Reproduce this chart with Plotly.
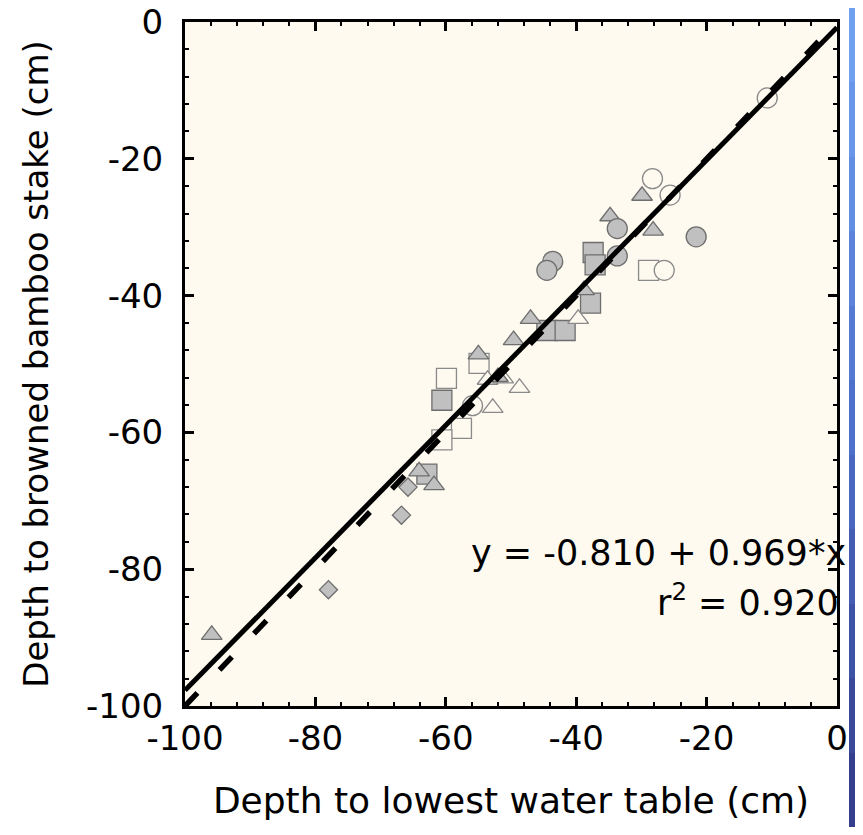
import plotly.graph_objects as go

# ---------------- data ----------------
gray_circle_x = [-33.7, -21.6, -33.7, -43.6, -44.5]
gray_circle_y = [-30.2, -31.4, -34.2, -35.0, -36.3]

open_circle_x = [-10.7, -28.3, -25.6, -26.5, -55.9]
open_circle_y = [-11.1, -22.9, -25.3, -36.3, -56.1]

gray_tri_x = [-29.9, -34.8, -28.2, -38.8, -47.0, -49.6, -55.0, -52.0, -64.1, -61.8, -95.9]
gray_tri_y = [-25.4, -28.4, -30.5, -39.2, -43.4, -46.5, -48.6, -51.9, -65.7, -67.7, -89.6]

open_tri_x = [-39.7, -53.6, -51.2, -48.7, -52.8]
open_tri_y = [-43.4, -52.3, -52.1, -53.5, -56.4]

gray_sq_x = [-37.4, -37.1, -37.8, -44.5, -41.7, -60.6, -62.9]
gray_sq_y = [-33.7, -35.5, -41.1, -45.1, -45.1, -55.3, -66.1]

open_sq_x = [-28.9, -54.9, -59.9, -57.6, -60.6]
open_sq_y = [-36.3, -49.9, -52.1, -59.4, -61.1]

diamond_x = [-65.8, -66.8, -78.0]
diamond_y = [-68.0, -72.1, -83.0]

fit_intercept = -0.810
fit_slope = 0.969
line_x = [-100, 0]

x_ticks = [-100, -80, -60, -40, -20, 0]
y_ticks = [-100, -80, -60, -40, -20, 0]

eq_text = "y = -0.810 + 0.969*x"
r2_text = "r<sup>2</sup> = 0.920"
x_title = "Depth to lowest water table (cm)"
y_title = "Depth to browned bamboo stake (cm)"

# ---------------- style / layout geometry ----------------
BG = "#fefaf0"
GRAY_FILL = "#c0c0c0"
GRAY_LINE = "#6e6e6e"
OPEN_LINE = "#8a8a8a"
FONT = "DejaVu Sans"

OFF = 8                      # default body margin of the html page
FIG_W, FIG_H = 863 - OFF, 835 - 2 * OFF
L = 185 - OFF                # left margin (figure px)
PAPER_W = FIG_W - L

def px_x(page_x):            # page pixel -> paper fraction (x)
    return (page_x - OFF - L) / PAPER_W

def px_y(page_y):            # page pixel -> paper fraction (y)
    return (FIG_H - (page_y - OFF)) / FIG_H

fig = go.Figure()

def add_markers(xs, ys, symbol, size, fill, edge, width=1.3):
    fig.add_trace(go.Scatter(
        x=xs, y=ys, mode="markers", showlegend=False, hoverinfo="skip",
        marker=dict(symbol=symbol, size=size, color=fill,
                    line=dict(color=edge, width=width))))

add_markers(open_sq_x, open_sq_y, "square", 20, BG, OPEN_LINE)
add_markers(gray_sq_x, gray_sq_y, "square", 20, GRAY_FILL, GRAY_LINE)
add_markers(open_tri_x, open_tri_y, "triangle-up", 18, BG, OPEN_LINE)
add_markers(gray_tri_x, gray_tri_y, "triangle-up", 18, GRAY_FILL, GRAY_LINE)
add_markers(open_circle_x, open_circle_y, "circle", 20, BG, OPEN_LINE)
add_markers(gray_circle_x, gray_circle_y, "circle", 20, GRAY_FILL, GRAY_LINE)
add_markers(diamond_x, diamond_y, "diamond", 14, GRAY_FILL, GRAY_LINE)

# 1:1 line (dashed)
fig.add_trace(go.Scatter(x=line_x, y=line_x, mode="lines", showlegend=False,
                         hoverinfo="skip",
                         line=dict(color="black", width=5.5, dash="18px,32px")))
# regression line
fig.add_trace(go.Scatter(x=line_x, y=[fit_intercept + fit_slope * v for v in line_x],
                         mode="lines", showlegend=False, hoverinfo="skip",
                         line=dict(color="black", width=5)))

# decorative blue gradient bar at right page edge (own hidden axes)
bar_levels = [0, 1, 2, 3, 4, 5, 6, 7, 8, 9, 10]
fig.add_trace(go.Heatmap(
    z=[[v, v] for v in bar_levels], x=[0, 1], y=bar_levels,
    xaxis="x2", yaxis="y2", showscale=False, hoverinfo="skip",
    colorscale=[[0, "rgb(52,62,140)"], [0.5, "rgb(78,112,205)"], [1, "rgb(110,160,240)"]]))

axis_common = dict(
    range=[-100, 0], showgrid=False, zeroline=False,
    showline=True, linecolor="black", linewidth=3, mirror="ticks",
    ticks="inside", ticklen=9, tickwidth=3, tickcolor="black",
    minor=dict(ticks="inside", ticklen=4, tickwidth=2, tickcolor="black", dtick=4),
    tickfont=dict(family=FONT, size=34, color="black"),
    ticklabeloverflow="allow",
)

fig.update_layout(
    xaxis=dict(**axis_common, domain=[0, px_x(837)],
               tickvals=x_ticks, ticktext=[str(v) for v in x_ticks],
               ticklabelstandoff=0,
               title=dict(text=x_title, font=dict(family=FONT, size=36, color="black"),
                          standoff=32)),
    yaxis=dict(**axis_common, domain=[px_y(706), px_y(22)],
               tickvals=y_ticks, ticktext=[str(v) for v in y_ticks],
               ticklabelstandoff=12,
               title=dict(text=y_title, font=dict(family=FONT, size=34, color="black"),
                          standoff=28)),
    xaxis2=dict(domain=[px_x(849), 1], visible=False, fixedrange=True),
    yaxis2=dict(domain=[0, 1], visible=False, fixedrange=True, range=[-0.5, 10.5]),
)

fig.add_annotation(x=px_x(848), y=px_y(553), xref="paper", yref="paper",
                   text=eq_text, showarrow=False, xanchor="right", yanchor="middle",
                   font=dict(family=FONT, size=35, color="black"))
fig.add_annotation(x=px_x(841), y=px_y(600), xref="paper", yref="paper",
                   text=r2_text, showarrow=False, xanchor="right", yanchor="middle",
                   font=dict(family=FONT, size=35, color="black"))

fig.update_layout(
    width=FIG_W, height=FIG_H,
    margin=dict(l=L, r=0, t=0, b=0, autoexpand=False),
    paper_bgcolor="white", plot_bgcolor=BG,
    showlegend=False,
)

fig.write_html("out.html")
